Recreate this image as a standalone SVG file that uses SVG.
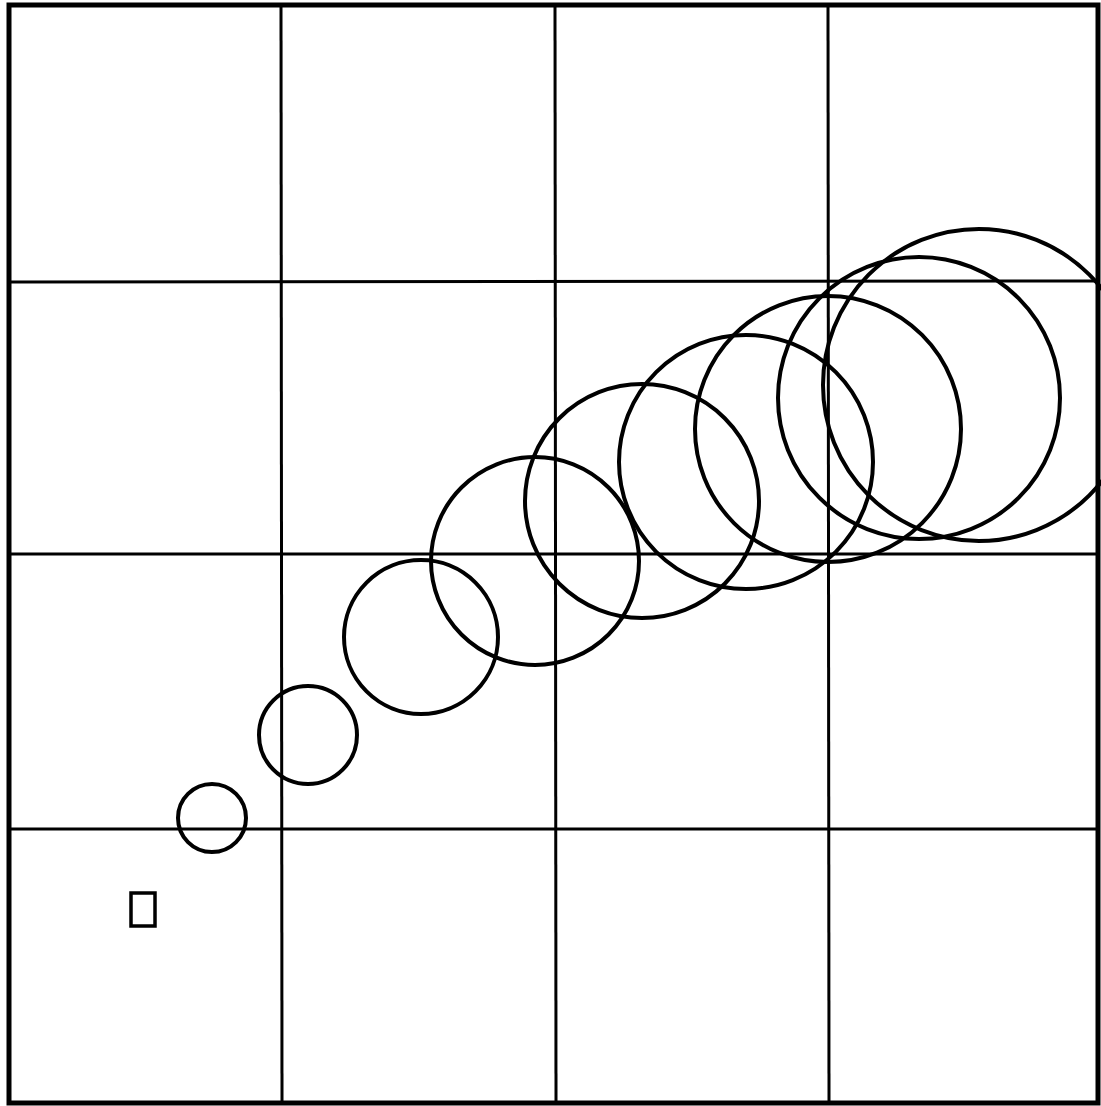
<svg xmlns="http://www.w3.org/2000/svg" width="1101" height="1106" viewBox="0 0 1101 1106">
<style>
.grid{stroke:#000;stroke-width:3;fill:none}
.frame{stroke:#000;stroke-width:5;fill:none}
.c{stroke:#000;stroke-width:4;fill:none}
</style>
<rect width="1101" height="1106" fill="#fff"/>
<g id="grid">
<rect class="frame" x="9" y="5" width="1089" height="1098"/>
<line class="grid" x1="281" y1="5" x2="282" y2="1103"/>
<line class="grid" x1="555" y1="5" x2="556" y2="1103"/>
<line class="grid" x1="828" y1="5" x2="829" y2="1103"/>
<line class="grid" x1="9" y1="282" x2="1098" y2="281"/>
<line class="grid" x1="9" y1="554" x2="1098" y2="554"/>
<line class="grid" x1="9" y1="829" x2="1098" y2="829"/>
</g>
<g id="marker">
<rect class="c" x="131" y="893" width="24" height="33" style="stroke-width:3.5"/>
</g>
<g id="circles">
<circle id="c1" class="c" cx="212" cy="818" r="34"/>
<circle id="c2" class="c" cx="308" cy="735" r="49"/>
<circle id="c3" class="c" cx="421" cy="637" r="77"/>
<circle id="c4" class="c" cx="535" cy="561" r="104"/>
<circle id="c5" class="c" cx="642" cy="501" r="117"/>
<circle id="c6" class="c" cx="746" cy="462" r="127"/>
<circle id="c7" class="c" cx="828" cy="429" r="133"/>
<circle id="c8" class="c" cx="919" cy="398" r="141"/>
<circle id="c9" class="c" cx="979" cy="385" r="156"/>
</g>
</svg>
